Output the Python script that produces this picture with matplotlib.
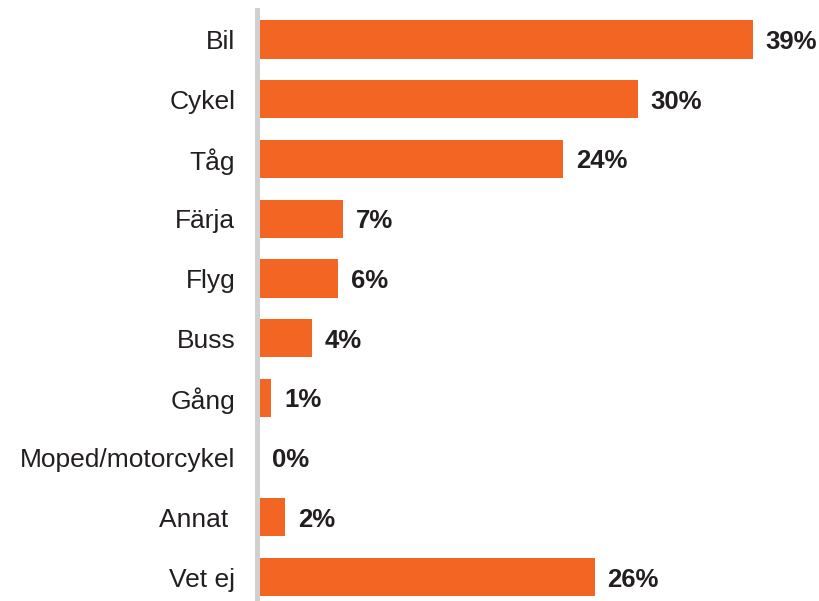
import matplotlib
matplotlib.use("Agg")
import matplotlib.pyplot as plt

categories = ["Bil", "Cykel", "Tåg", "Färja", "Flyg", "Buss", "Gång",
              "Moped/motorcykel", "Annat ", "Vet ej"]
values = [39.0, 29.9, 24.0, 6.6, 6.2, 4.1, 0.9, 0.0, 2.0, 26.5]
labels = ["39%", "30%", "24%", "7%", "6%", "4%", "1%", "0%", "2%", "26%"]

plt.rcParams['font.family'] = ['Liberation Sans', 'DejaVu Sans']

fig = plt.figure(figsize=(8.2, 6.01), dpi=100)
ax = fig.add_axes([260 / 820, 1 / 601, 560 / 820, 590 / 601])

pos = list(range(len(categories)))
ax.barh(pos, values, height=0.64, color="#F26522", edgecolor="none")

for p, v, lab in zip(pos, values, labels):
    ax.annotate(lab, (v, p), xytext=(9, 0), textcoords="offset points",
                ha="left", va="center_baseline", fontsize=18.5, fontweight="bold",
                color="#231f20")

ax.set_yticks(pos)
ax.set_yticklabels(categories)
ax.tick_params(axis="y", length=0, pad=16, labelsize=19, labelcolor="#231f20")
ax.tick_params(axis="x", bottom=False, labelbottom=False)
ax.set_xlim(0, 44.3)
ax.set_ylim(9.385, -0.494)

for s in ["top", "right", "bottom"]:
    ax.spines[s].set_visible(False)
ax.spines["left"].set_color("#d0d0d0")
ax.spines["left"].set_linewidth(3.6)
ax.spines["left"].set_position(("outward", 1.8))

fig.savefig("out.png", dpi=100)
